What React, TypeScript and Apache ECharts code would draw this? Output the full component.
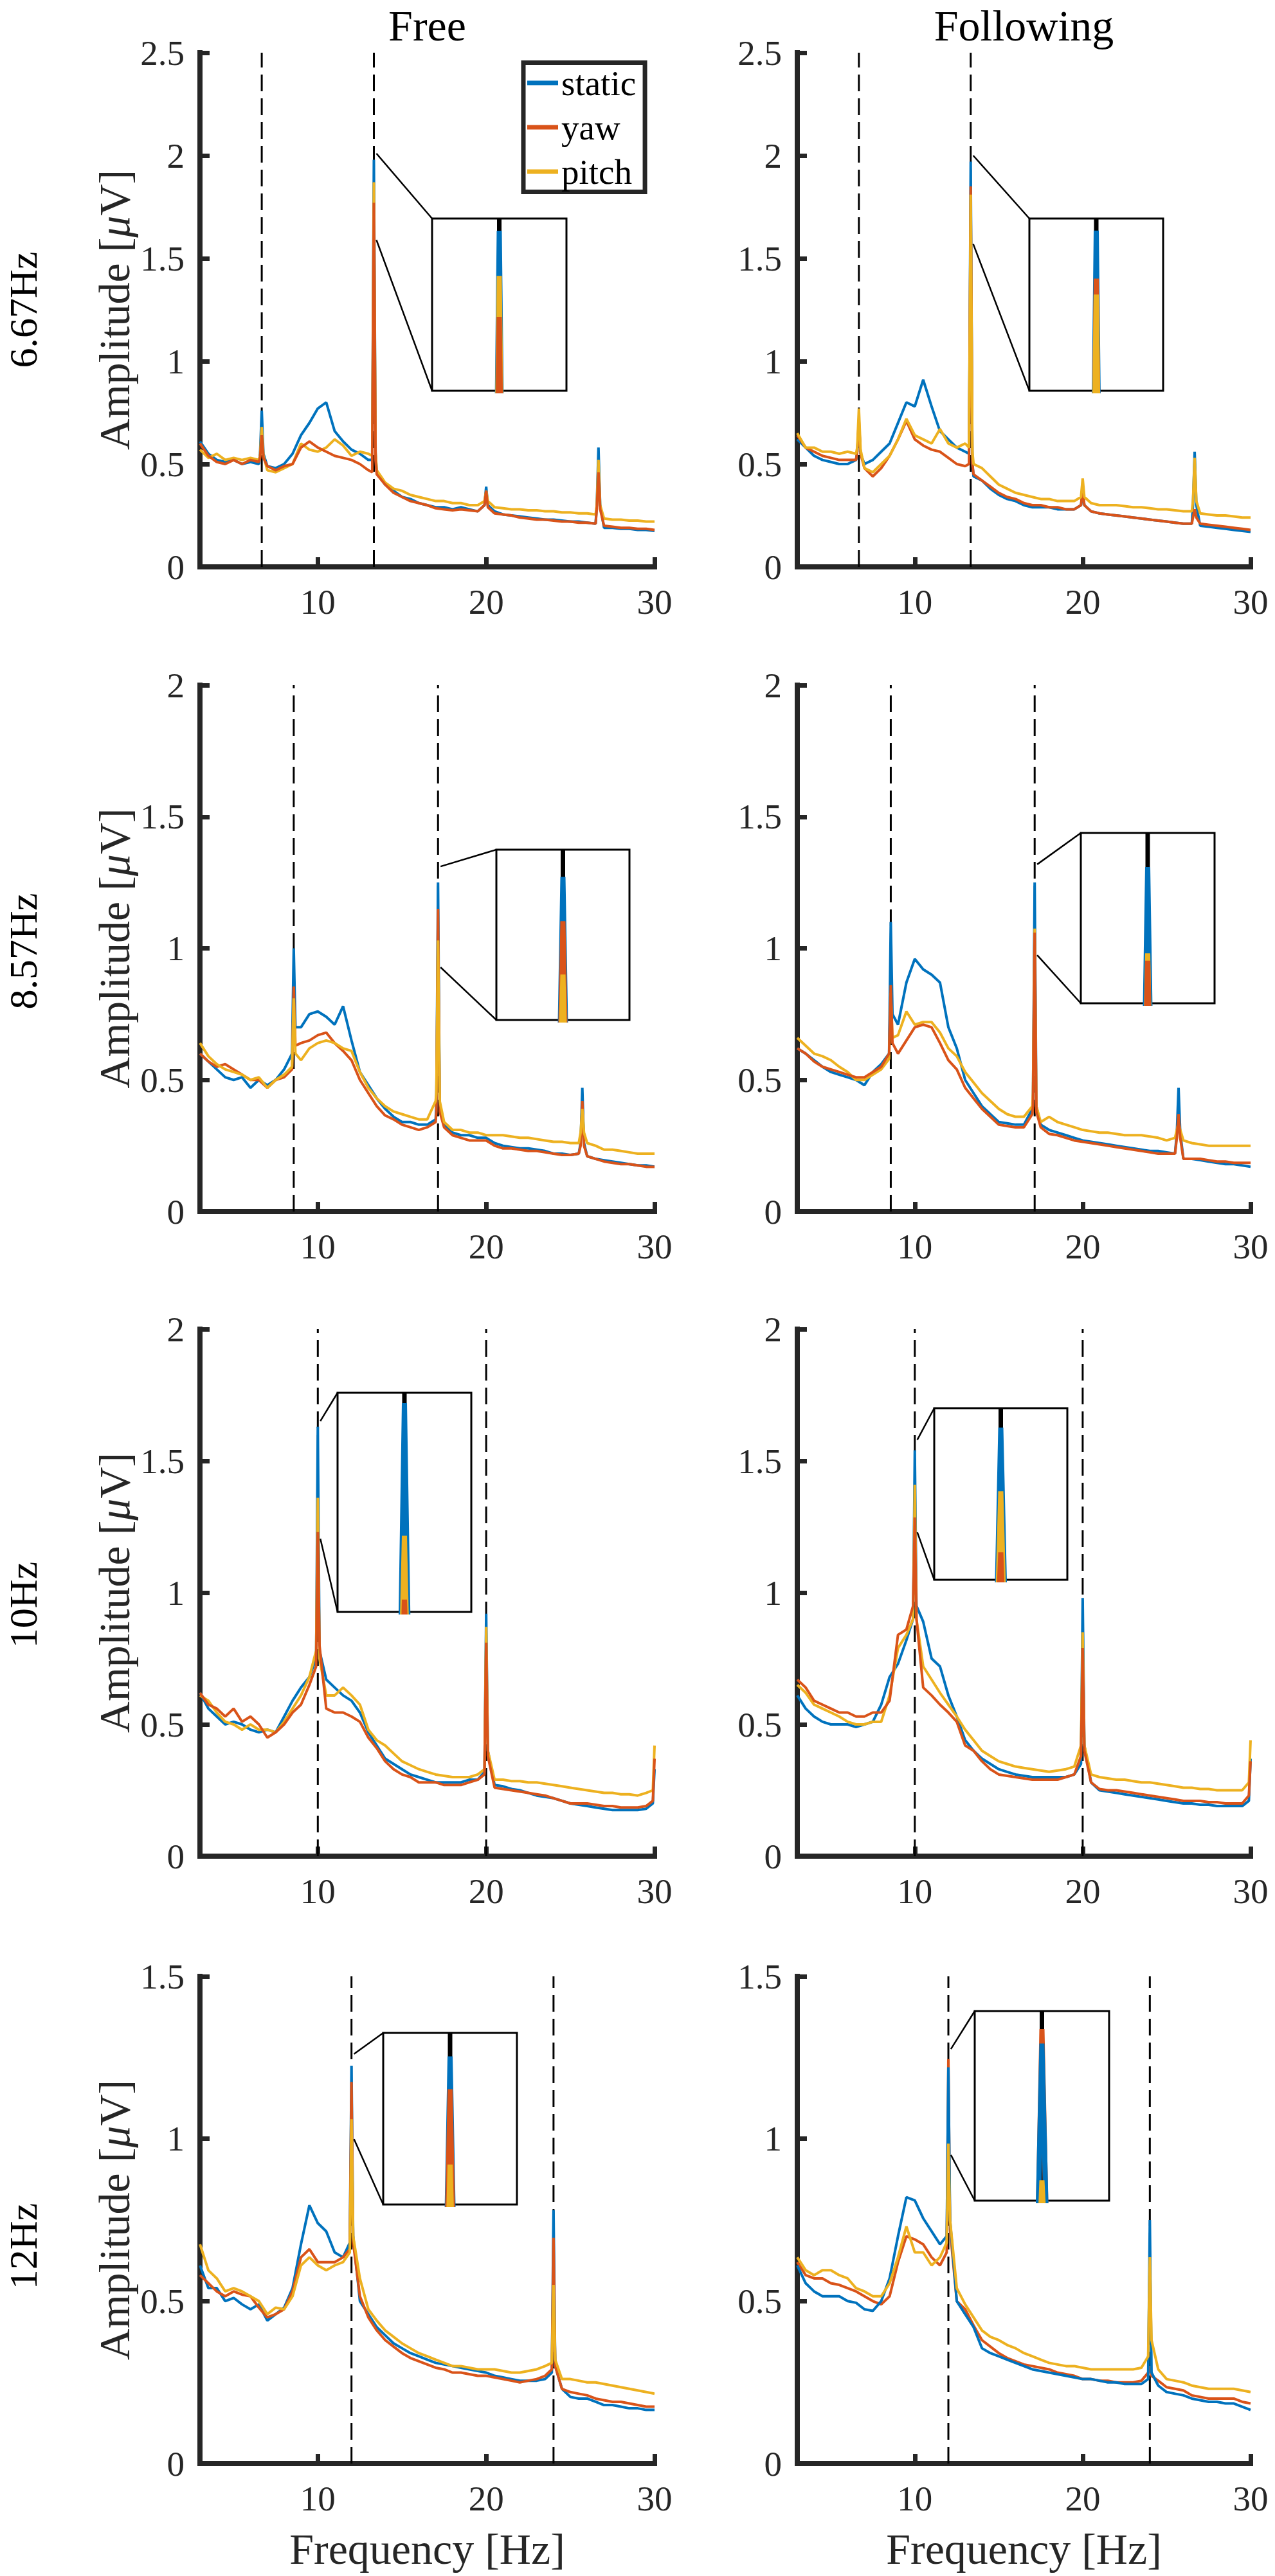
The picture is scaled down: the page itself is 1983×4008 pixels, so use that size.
import React, { useEffect, useRef } from "react";
import * as echarts from "echarts";

const FONT = "Liberation Serif";
const AXIS = "#262626";
const COLORS: Record<string, string> = { static: "#0072BD", yaw: "#D95319", pitch: "#EDB120" };
const SERIES_NAMES = ["static", "yaw", "pitch"];

const rowTitles = ["6.67Hz", "8.57Hz", "10Hz", "12Hz"];
const colTitles = ["Free", "Following"];
const yAxisTitle = "Amplitude [";
const yAxisUnit = "V]";
const xAxisTitle = "Frequency [Hz]";
const yMaxByRow = [2.5, 2, 2, 1.5];
const stimLinesByRow = [[6.67, 13.33], [8.57, 17.14], [10, 20], [12, 24]];
const xTickValues = [10, 20, 30];

// ---------- 6.67 Hz ----------
const freq667 = [3, 3.5, 4, 4.5, 5, 5.5, 6, 6.5, 6.57, 6.67, 6.77, 7, 7.5, 8, 8.5, 9, 9.5, 10, 10.5, 11, 11.5, 12, 12.5, 13, 13.23, 13.33, 13.43, 13.5, 14, 14.5, 15, 15.5, 16, 16.5, 17, 17.5, 18, 18.5, 19, 19.5, 19.9, 20, 20.1, 20.5, 21, 21.5, 22, 22.5, 23, 23.5, 24, 24.5, 25, 25.5, 26, 26.5, 26.57, 26.67, 26.77, 27, 27.5, 28, 28.5, 29, 29.5, 30];
const free667Static = [0.61, 0.55, 0.52, 0.51, 0.52, 0.5, 0.51, 0.5, 0.55, 0.76, 0.55, 0.49, 0.48, 0.5, 0.55, 0.64, 0.7, 0.77, 0.8, 0.66, 0.61, 0.57, 0.55, 0.52, 0.52, 1.98, 0.55, 0.46, 0.4, 0.37, 0.34, 0.33, 0.31, 0.3, 0.29, 0.29, 0.28, 0.29, 0.28, 0.27, 0.3, 0.39, 0.3, 0.27, 0.255, 0.25, 0.245, 0.24, 0.235, 0.23, 0.23, 0.225, 0.22, 0.22, 0.215, 0.21, 0.3, 0.58, 0.3, 0.19, 0.19, 0.185, 0.185, 0.18, 0.18, 0.175];
const free667Yaw = [0.6, 0.54, 0.51, 0.5, 0.52, 0.5, 0.52, 0.51, 0.53, 0.64, 0.53, 0.49, 0.47, 0.49, 0.5, 0.58, 0.61, 0.58, 0.56, 0.54, 0.53, 0.52, 0.5, 0.47, 0.46, 1.77, 0.52, 0.45, 0.4, 0.36, 0.34, 0.32, 0.31, 0.3, 0.285, 0.28, 0.275, 0.28, 0.275, 0.27, 0.3, 0.37, 0.29, 0.26, 0.255, 0.25, 0.24, 0.235, 0.23, 0.23, 0.225, 0.22, 0.22, 0.215, 0.215, 0.21, 0.28, 0.46, 0.28, 0.2, 0.195, 0.19, 0.19, 0.185, 0.185, 0.18];
const free667Pitch = [0.57, 0.53, 0.55, 0.52, 0.53, 0.52, 0.53, 0.52, 0.54, 0.68, 0.54, 0.47, 0.46, 0.48, 0.5, 0.6, 0.57, 0.56, 0.58, 0.62, 0.59, 0.54, 0.56, 0.55, 0.54, 1.87, 0.56, 0.47, 0.41, 0.38, 0.37, 0.35, 0.34, 0.33, 0.32, 0.32, 0.31, 0.31, 0.3, 0.3, 0.32, 0.37, 0.32, 0.29, 0.285, 0.28, 0.28, 0.275, 0.275, 0.27, 0.27, 0.265, 0.265, 0.26, 0.26, 0.255, 0.3, 0.52, 0.3, 0.235, 0.23, 0.23, 0.225, 0.225, 0.22, 0.22];
const follow667Static = [0.62, 0.58, 0.54, 0.52, 0.51, 0.5, 0.5, 0.52, 0.56, 0.7, 0.55, 0.5, 0.52, 0.56, 0.6, 0.7, 0.8, 0.78, 0.91, 0.78, 0.66, 0.62, 0.58, 0.56, 0.55, 1.97, 0.5, 0.44, 0.42, 0.38, 0.35, 0.33, 0.32, 0.3, 0.29, 0.29, 0.29, 0.28, 0.28, 0.28, 0.3, 0.36, 0.3, 0.27, 0.26, 0.255, 0.25, 0.245, 0.24, 0.235, 0.23, 0.225, 0.22, 0.215, 0.21, 0.21, 0.3, 0.56, 0.3, 0.2, 0.195, 0.19, 0.185, 0.18, 0.175, 0.17];
const follow667Yaw = [0.64, 0.58, 0.56, 0.54, 0.53, 0.52, 0.52, 0.52, 0.56, 0.72, 0.55, 0.48, 0.44, 0.48, 0.54, 0.62, 0.71, 0.62, 0.59, 0.57, 0.56, 0.53, 0.5, 0.49, 0.5, 1.85, 0.5, 0.45, 0.42, 0.39, 0.36, 0.34, 0.33, 0.31, 0.3, 0.3, 0.29, 0.29, 0.28, 0.28, 0.3, 0.38, 0.3, 0.27, 0.26, 0.255, 0.25, 0.245, 0.24, 0.235, 0.23, 0.225, 0.22, 0.215, 0.21, 0.21, 0.24, 0.28, 0.24, 0.21, 0.205, 0.2, 0.195, 0.19, 0.185, 0.18];
const follow667Pitch = [0.65, 0.58, 0.58, 0.56, 0.56, 0.55, 0.56, 0.55, 0.58, 0.77, 0.57, 0.48, 0.46, 0.5, 0.54, 0.62, 0.72, 0.64, 0.62, 0.6, 0.67, 0.6, 0.58, 0.6, 0.58, 1.81, 0.56, 0.5, 0.48, 0.44, 0.4, 0.38, 0.36, 0.35, 0.34, 0.33, 0.33, 0.32, 0.32, 0.32, 0.34, 0.43, 0.34, 0.31, 0.3, 0.3, 0.3, 0.295, 0.29, 0.29, 0.285, 0.28, 0.28, 0.275, 0.27, 0.27, 0.32, 0.53, 0.32, 0.26, 0.255, 0.25, 0.25, 0.245, 0.24, 0.24];

// ---------- 8.57 Hz ----------
const freq857 = [3, 3.5, 4, 4.5, 5, 5.5, 6, 6.5, 7, 7.5, 8, 8.47, 8.57, 8.67, 9, 9.5, 10, 10.5, 11, 11.5, 12, 12.5, 13, 13.5, 14, 14.5, 15, 15.5, 16, 16.5, 17, 17.04, 17.14, 17.24, 17.5, 18, 18.5, 19, 19.5, 20, 20.5, 21, 21.5, 22, 22.5, 23, 23.5, 24, 24.5, 25, 25.5, 25.61, 25.71, 25.81, 26, 26.5, 27, 27.5, 28, 28.5, 29, 29.5, 30];
const free857Static = [0.6, 0.57, 0.54, 0.51, 0.5, 0.51, 0.47, 0.5, 0.48, 0.5, 0.54, 0.6, 1.0, 0.7, 0.7, 0.75, 0.76, 0.74, 0.71, 0.78, 0.65, 0.53, 0.48, 0.43, 0.39, 0.36, 0.34, 0.34, 0.33, 0.33, 0.35, 0.4, 1.25, 0.4, 0.33, 0.3, 0.29, 0.29, 0.28, 0.28, 0.26, 0.25, 0.245, 0.24, 0.24, 0.235, 0.23, 0.22, 0.22, 0.215, 0.22, 0.26, 0.47, 0.26, 0.21, 0.2, 0.195, 0.19, 0.185, 0.18, 0.175, 0.175, 0.17];
const free857Yaw = [0.6, 0.57, 0.55, 0.56, 0.54, 0.52, 0.5, 0.5, 0.47, 0.5, 0.51, 0.54, 0.855, 0.63, 0.64, 0.65, 0.67, 0.68, 0.64, 0.61, 0.575, 0.5, 0.45, 0.4, 0.365, 0.35, 0.33, 0.32, 0.31, 0.32, 0.34, 0.38, 1.15, 0.38, 0.32, 0.29, 0.28, 0.27, 0.27, 0.27, 0.25, 0.24, 0.24, 0.235, 0.23, 0.23, 0.225, 0.22, 0.215, 0.215, 0.22, 0.25, 0.42, 0.25, 0.21, 0.2, 0.19, 0.185, 0.18, 0.18, 0.175, 0.17, 0.17];
const free857Pitch = [0.64, 0.59, 0.56, 0.54, 0.53, 0.52, 0.5, 0.51, 0.47, 0.5, 0.52, 0.55, 0.81, 0.6, 0.575, 0.62, 0.64, 0.65, 0.64, 0.62, 0.61, 0.53, 0.47, 0.43, 0.4, 0.38, 0.37, 0.36, 0.35, 0.35, 0.42, 0.45, 1.03, 0.42, 0.34, 0.31, 0.31, 0.3, 0.3, 0.29, 0.29, 0.29, 0.285, 0.28, 0.28, 0.275, 0.27, 0.265, 0.265, 0.26, 0.26, 0.3, 0.39, 0.3, 0.26, 0.25, 0.235, 0.235, 0.23, 0.225, 0.22, 0.22, 0.22];
const follow857Static = [0.62, 0.6, 0.575, 0.55, 0.53, 0.52, 0.51, 0.5, 0.48, 0.53, 0.56, 0.6, 1.1, 0.75, 0.71, 0.87, 0.96, 0.92, 0.9, 0.87, 0.7, 0.62, 0.5, 0.45, 0.4, 0.37, 0.34, 0.335, 0.33, 0.33, 0.39, 0.42, 1.25, 0.4, 0.33, 0.31, 0.3, 0.29, 0.28, 0.27, 0.265, 0.26, 0.255, 0.25, 0.245, 0.24, 0.235, 0.23, 0.23, 0.225, 0.22, 0.3, 0.47, 0.3, 0.2, 0.2, 0.195, 0.19, 0.185, 0.18, 0.18, 0.175, 0.17];
const follow857Yaw = [0.62, 0.6, 0.57, 0.55, 0.54, 0.53, 0.52, 0.51, 0.51, 0.53, 0.55, 0.6, 0.86, 0.64, 0.6, 0.65, 0.7, 0.71, 0.7, 0.64, 0.575, 0.54, 0.47, 0.43, 0.39, 0.36, 0.33, 0.325, 0.32, 0.32, 0.37, 0.4, 1.06, 0.38, 0.32, 0.295, 0.29, 0.28, 0.27, 0.265, 0.26, 0.255, 0.25, 0.245, 0.24, 0.235, 0.23, 0.225, 0.22, 0.22, 0.22, 0.28, 0.37, 0.28, 0.2, 0.2, 0.2, 0.195, 0.19, 0.19, 0.185, 0.185, 0.185];
const follow857Pitch = [0.66, 0.63, 0.6, 0.59, 0.575, 0.55, 0.53, 0.5, 0.5, 0.52, 0.54, 0.58, 0.83, 0.66, 0.67, 0.76, 0.71, 0.72, 0.72, 0.68, 0.62, 0.59, 0.53, 0.49, 0.45, 0.42, 0.39, 0.37, 0.36, 0.36, 0.4, 0.45, 1.075, 0.4, 0.34, 0.36, 0.34, 0.33, 0.32, 0.31, 0.305, 0.3, 0.3, 0.295, 0.29, 0.29, 0.29, 0.285, 0.28, 0.27, 0.28, 0.31, 0.34, 0.31, 0.27, 0.26, 0.255, 0.25, 0.25, 0.25, 0.25, 0.25, 0.25];

// ---------- 10 Hz ----------
const freq10 = [3, 3.5, 4, 4.5, 5, 5.5, 6, 6.5, 7, 7.5, 8, 8.5, 9, 9.5, 9.9, 10, 10.1, 10.5, 11, 11.5, 12, 12.5, 13, 13.5, 14, 14.5, 15, 15.5, 16, 16.5, 17, 17.5, 18, 18.5, 19, 19.5, 19.9, 20, 20.1, 20.5, 21, 21.5, 22, 22.5, 23, 23.5, 24, 24.5, 25, 25.5, 26, 26.5, 27, 27.5, 28, 28.5, 29, 29.5, 29.9, 30];
const free10Static = [0.62, 0.56, 0.53, 0.5, 0.51, 0.5, 0.48, 0.47, 0.48, 0.47, 0.53, 0.59, 0.64, 0.68, 0.75, 1.63, 0.78, 0.67, 0.64, 0.61, 0.59, 0.545, 0.47, 0.42, 0.37, 0.35, 0.33, 0.31, 0.3, 0.29, 0.28, 0.28, 0.28, 0.28, 0.29, 0.29, 0.32, 0.92, 0.4, 0.27, 0.265, 0.255, 0.25, 0.24, 0.23, 0.225, 0.22, 0.21, 0.2, 0.195, 0.19, 0.185, 0.18, 0.175, 0.175, 0.175, 0.175, 0.18, 0.2, 0.33];
const free10Yaw = [0.62, 0.575, 0.56, 0.53, 0.56, 0.51, 0.53, 0.5, 0.45, 0.47, 0.5, 0.545, 0.575, 0.65, 0.72, 1.23, 0.8, 0.56, 0.545, 0.545, 0.53, 0.51, 0.45, 0.41, 0.36, 0.33, 0.31, 0.3, 0.28, 0.28, 0.28, 0.27, 0.27, 0.27, 0.28, 0.29, 0.31, 0.81, 0.38, 0.26, 0.255, 0.25, 0.245, 0.24, 0.235, 0.23, 0.22, 0.21, 0.2, 0.2, 0.2, 0.195, 0.19, 0.19, 0.185, 0.185, 0.185, 0.19, 0.21, 0.37];
const free10Pitch = [0.61, 0.59, 0.545, 0.51, 0.5, 0.48, 0.5, 0.48, 0.48, 0.47, 0.51, 0.56, 0.61, 0.68, 0.78, 1.36, 0.75, 0.61, 0.61, 0.64, 0.61, 0.575, 0.48, 0.44, 0.42, 0.39, 0.36, 0.345, 0.33, 0.32, 0.31, 0.305, 0.3, 0.3, 0.3, 0.31, 0.33, 0.87, 0.4, 0.29, 0.29, 0.285, 0.285, 0.28, 0.28, 0.275, 0.27, 0.265, 0.26, 0.255, 0.25, 0.245, 0.24, 0.24, 0.235, 0.235, 0.23, 0.24, 0.25, 0.42];
const follow10Static = [0.61, 0.56, 0.53, 0.51, 0.5, 0.5, 0.5, 0.49, 0.5, 0.51, 0.575, 0.68, 0.73, 0.82, 0.9, 1.54, 0.95, 0.89, 0.75, 0.72, 0.61, 0.53, 0.44, 0.4, 0.37, 0.35, 0.33, 0.32, 0.31, 0.305, 0.3, 0.3, 0.3, 0.3, 0.3, 0.31, 0.35, 0.98, 0.42, 0.28, 0.25, 0.245, 0.24, 0.235, 0.23, 0.225, 0.22, 0.215, 0.21, 0.205, 0.2, 0.2, 0.195, 0.195, 0.19, 0.19, 0.19, 0.19, 0.21, 0.37];
const follow10Yaw = [0.67, 0.64, 0.59, 0.575, 0.56, 0.545, 0.545, 0.53, 0.53, 0.545, 0.545, 0.59, 0.84, 0.86, 0.95, 1.285, 0.9, 0.64, 0.61, 0.575, 0.545, 0.51, 0.42, 0.4, 0.36, 0.33, 0.31, 0.305, 0.3, 0.295, 0.29, 0.29, 0.29, 0.29, 0.3, 0.31, 0.38, 0.79, 0.4, 0.28, 0.255, 0.25, 0.25, 0.245, 0.24, 0.235, 0.23, 0.225, 0.22, 0.215, 0.21, 0.21, 0.21, 0.205, 0.205, 0.2, 0.2, 0.2, 0.23, 0.36];
const follow10Pitch = [0.65, 0.62, 0.575, 0.56, 0.545, 0.53, 0.51, 0.5, 0.5, 0.51, 0.51, 0.61, 0.79, 0.84, 0.9, 1.41, 0.9, 0.72, 0.67, 0.62, 0.575, 0.53, 0.48, 0.44, 0.4, 0.38, 0.36, 0.35, 0.34, 0.335, 0.33, 0.325, 0.32, 0.325, 0.33, 0.34, 0.42, 0.85, 0.42, 0.31, 0.3, 0.295, 0.29, 0.29, 0.285, 0.28, 0.28, 0.275, 0.27, 0.265, 0.26, 0.26, 0.255, 0.255, 0.25, 0.25, 0.25, 0.25, 0.28, 0.44];

// ---------- 12 Hz ----------
const freq12 = [3, 3.5, 4, 4.5, 5, 5.5, 6, 6.5, 7, 7.5, 8, 8.5, 9, 9.5, 10, 10.5, 11, 11.5, 11.9, 12, 12.1, 12.5, 13, 13.5, 14, 14.5, 15, 15.5, 16, 16.5, 17, 17.5, 18, 18.5, 19, 19.5, 20, 20.5, 21, 21.5, 22, 22.5, 23, 23.5, 23.9, 24, 24.1, 24.5, 25, 25.5, 26, 26.5, 27, 27.5, 28, 28.5, 29, 29.5, 30];
const free12Static = [0.61, 0.54, 0.54, 0.5, 0.51, 0.49, 0.475, 0.49, 0.44, 0.46, 0.48, 0.54, 0.675, 0.795, 0.74, 0.715, 0.65, 0.635, 0.68, 1.225, 0.7, 0.5, 0.46, 0.42, 0.395, 0.37, 0.355, 0.34, 0.33, 0.32, 0.31, 0.305, 0.3, 0.295, 0.29, 0.285, 0.28, 0.27, 0.265, 0.26, 0.255, 0.255, 0.255, 0.26, 0.28, 0.78, 0.3, 0.23, 0.205, 0.2, 0.2, 0.19, 0.18, 0.18, 0.175, 0.17, 0.17, 0.165, 0.165];
const free12Yaw = [0.58, 0.555, 0.53, 0.515, 0.53, 0.52, 0.515, 0.48, 0.45, 0.46, 0.475, 0.53, 0.635, 0.66, 0.62, 0.62, 0.62, 0.635, 0.66, 1.175, 0.68, 0.515, 0.45, 0.41, 0.38, 0.36, 0.34, 0.325, 0.315, 0.305, 0.295, 0.29, 0.28, 0.28, 0.275, 0.27, 0.27, 0.265, 0.26, 0.255, 0.25, 0.255, 0.26, 0.27, 0.29, 0.695, 0.3, 0.23, 0.22, 0.215, 0.21, 0.2, 0.195, 0.19, 0.19, 0.185, 0.18, 0.175, 0.175];
const free12Pitch = [0.675, 0.595, 0.57, 0.53, 0.54, 0.53, 0.515, 0.5, 0.46, 0.48, 0.475, 0.515, 0.61, 0.635, 0.61, 0.595, 0.61, 0.62, 0.65, 1.06, 0.7, 0.57, 0.475, 0.44, 0.41, 0.39, 0.37, 0.355, 0.34, 0.33, 0.32, 0.31, 0.3, 0.3, 0.295, 0.29, 0.29, 0.29, 0.285, 0.28, 0.28, 0.285, 0.29, 0.3, 0.31, 0.55, 0.32, 0.26, 0.26, 0.255, 0.25, 0.25, 0.245, 0.24, 0.235, 0.23, 0.225, 0.22, 0.215];
const follow12Static = [0.61, 0.555, 0.53, 0.515, 0.515, 0.515, 0.5, 0.495, 0.475, 0.47, 0.5, 0.57, 0.7, 0.82, 0.81, 0.755, 0.715, 0.675, 0.7, 1.22, 0.75, 0.5, 0.46, 0.42, 0.355, 0.34, 0.33, 0.32, 0.31, 0.3, 0.29, 0.285, 0.28, 0.275, 0.27, 0.265, 0.26, 0.26, 0.255, 0.25, 0.25, 0.245, 0.245, 0.245, 0.26, 0.75, 0.28, 0.24, 0.22, 0.215, 0.21, 0.2, 0.195, 0.19, 0.19, 0.185, 0.185, 0.175, 0.165];
const follow12Yaw = [0.62, 0.58, 0.57, 0.57, 0.555, 0.55, 0.54, 0.53, 0.515, 0.5, 0.49, 0.515, 0.62, 0.7, 0.69, 0.675, 0.635, 0.61, 0.65, 1.245, 0.72, 0.5, 0.475, 0.425, 0.38, 0.36, 0.34, 0.325, 0.315, 0.305, 0.3, 0.295, 0.29, 0.28, 0.275, 0.27, 0.26, 0.26, 0.255, 0.255, 0.25, 0.25, 0.25, 0.255, 0.28, 0.3, 0.27, 0.255, 0.235, 0.23, 0.225, 0.21, 0.205, 0.2, 0.2, 0.2, 0.2, 0.19, 0.185];
const follow12Pitch = [0.635, 0.595, 0.58, 0.595, 0.595, 0.58, 0.57, 0.54, 0.53, 0.515, 0.515, 0.555, 0.635, 0.73, 0.65, 0.65, 0.61, 0.635, 0.68, 0.985, 0.75, 0.54, 0.49, 0.45, 0.41, 0.39, 0.38, 0.365, 0.355, 0.34, 0.33, 0.32, 0.31, 0.305, 0.3, 0.3, 0.295, 0.29, 0.29, 0.29, 0.29, 0.29, 0.29, 0.295, 0.33, 0.635, 0.38, 0.29, 0.26, 0.255, 0.25, 0.24, 0.235, 0.23, 0.23, 0.23, 0.23, 0.225, 0.22];

// zoomed window of each inset: centre frequency and amplitude range
const insetFreq = [13.33, 13.33, 17.14, 17.14, 10, 10, 12, 12];
const insetLow = [1.59, 1.57, 0.928, 0.974, 1.205, 1.229, 0.999, 0.95];
const insetHigh = [2.01, 2.0, 1.311, 1.319, 1.651, 1.58, 1.261, 1.276];

type Panel = {
  row: number;
  col: number;
  freq: number[];
  values: Record<string, number[]>;
  order: string[];
};

const PANELS: Panel[] = [
  { row: 0, col: 0, freq: freq667, values: { static: free667Static, yaw: free667Yaw, pitch: free667Pitch }, order: ["static", "pitch", "yaw"] },
  { row: 0, col: 1, freq: freq667, values: { static: follow667Static, yaw: follow667Yaw, pitch: follow667Pitch }, order: ["static", "yaw", "pitch"] },
  { row: 1, col: 0, freq: freq857, values: { static: free857Static, yaw: free857Yaw, pitch: free857Pitch }, order: ["static", "yaw", "pitch"] },
  { row: 1, col: 1, freq: freq857, values: { static: follow857Static, yaw: follow857Yaw, pitch: follow857Pitch }, order: ["static", "pitch", "yaw"] },
  { row: 2, col: 0, freq: freq10, values: { static: free10Static, yaw: free10Yaw, pitch: free10Pitch }, order: ["static", "pitch", "yaw"] },
  { row: 2, col: 1, freq: freq10, values: { static: follow10Static, yaw: follow10Yaw, pitch: follow10Pitch }, order: ["static", "pitch", "yaw"] },
  { row: 3, col: 0, freq: freq12, values: { static: free12Static, yaw: free12Yaw, pitch: free12Pitch }, order: ["static", "yaw", "pitch"] },
  { row: 3, col: 1, freq: freq12, values: { static: follow12Static, yaw: follow12Yaw, pitch: follow12Pitch }, order: ["yaw", "static", "pitch"] },
];

// layout (pixels)
const COL_LEFT = [311, 1240];
const COL_WIDTH = [707, 705];
const ROW_TOP = [82, 1066, 2068, 3075];
const ROW_HEIGHT = [800, 819, 820, 758];
const ROW_LABEL_Y = [482, 1480, 2497, 3495];
const Y_TITLE_X = 178;
const X_TITLE_Y = 3966;
// inset boxes: [left, top, width, height]
const INSET_BOX = [
  [672, 340, 209, 268],
  [1601, 340, 208, 268],
  [772, 1322, 207, 265],
  [1681, 1296, 208, 265],
  [525, 2167, 208, 341],
  [1453, 2191, 207, 267],
  [596, 3163, 208, 267],
  [1516, 3129, 209, 295],
];

const tickRich = { t: { fontFamily: FONT, fontSize: 55, color: AXIS } };

function buildOption() {
  const grid: any[] = [];
  const xAxis: any[] = [];
  const yAxis: any[] = [];
  const series: any[] = [];
  const n = PANELS.length;

  PANELS.forEach((p, i) => {
    grid.push({ left: COL_LEFT[p.col], top: ROW_TOP[p.row], width: COL_WIDTH[p.col], height: ROW_HEIGHT[p.row], show: false });
    xAxis.push({
      gridIndex: i,
      type: "value",
      min: 3,
      max: 30,
      axisLine: { show: true, onZero: false, lineStyle: { color: AXIS, width: 8, cap: "square" } },
      axisTick: { show: true, inside: true, length: 15, customValues: xTickValues, lineStyle: { color: AXIS, width: 7 } },
      axisLabel: {
        show: true,
        customValues: xTickValues,
        fontFamily: FONT,
        fontSize: 55,
        color: AXIS,
        margin: 27,
        formatter: (v: number) => "{t|" + v + "}",
        rich: tickRich,
      },
      splitLine: { show: false },
    });
    yAxis.push({
      gridIndex: i,
      type: "value",
      min: 0,
      max: yMaxByRow[p.row],
      interval: 0.5,
      axisLine: { show: true, onZero: false, lineStyle: { color: AXIS, width: 8, cap: "square" } },
      axisTick: { show: true, inside: true, length: 15, lineStyle: { color: AXIS, width: 7 } },
      axisLabel: {
        show: true,
        fontFamily: FONT,
        fontSize: 55,
        color: AXIS,
        margin: 24,
        formatter: (v: number) => "{t|" + v + "}",
        rich: tickRich,
      },
      splitLine: { show: false },
    });

    // dashed stimulation-frequency lines
    stimLinesByRow[p.row].forEach((f) => {
      series.push({
        type: "line",
        name: "stim",
        xAxisIndex: i,
        yAxisIndex: i,
        data: [[f, 0], [f, yMaxByRow[p.row]]],
        showSymbol: false,
        symbol: "none",
        silent: true,
        z: 1,
        lineStyle: { color: "#000", width: 3, type: [26, 11] },
      });
    });

    p.order.forEach((name, k) => {
      const vals = p.values[name];
      series.push({
        type: "line",
        name,
        xAxisIndex: i,
        yAxisIndex: i,
        data: p.freq.map((x, j) => [x, vals[j]]),
        showSymbol: false,
        symbol: "none",
        silent: true,
        z: 3 + k,
        color: COLORS[name],
        lineStyle: { color: COLORS[name], width: 4, join: "bevel" },
      });
    });
  });

  // insets
  PANELS.forEach((p, i) => {
    const gi = n + i;
    const box = INSET_BOX[i];
    const f = insetFreq[i];
    grid.push({ left: box[0], top: box[1], width: box[2], height: box[3], show: true, borderColor: "#000", borderWidth: 3, backgroundColor: "#fff", z: 10 });
    xAxis.push({ gridIndex: gi, type: "value", min: f - 1, max: f + 1, show: false });
    yAxis.push({ gridIndex: gi, type: "value", min: insetLow[i], max: insetHigh[i], show: false });
    series.push({
      type: "line",
      name: "stim-inset",
      xAxisIndex: gi,
      yAxisIndex: gi,
      data: [[f, insetLow[i]], [f, insetHigh[i]]],
      showSymbol: false,
      symbol: "none",
      silent: true,
      z: 11,
      lineStyle: { color: "#000", width: 7 },
    });
    p.order.forEach((name, k) => {
      const vals = p.values[name];
      series.push({
        type: "line",
        name,
        xAxisIndex: gi,
        yAxisIndex: gi,
        data: p.freq.map((x, j) => [x, vals[j]]),
        showSymbol: false,
        symbol: "none",
        silent: true,
        clip: true,
        z: 12 + k,
        color: COLORS[name],
        lineStyle: { color: COLORS[name], width: 8, join: "bevel" },
      });
    });
  });

  return {
    animation: false,
    backgroundColor: "#fff",
    textStyle: { fontFamily: FONT },
    grid,
    xAxis,
    yAxis,
    series,
    legend: {
      show: true,
      data: SERIES_NAMES,
      orient: "vertical",
      left: 814,
      top: 97.5,
      padding: [4, 14, 4, 6],
      itemGap: 14,
      itemWidth: 48,
      itemHeight: 7,
      icon: "rect",
      borderColor: AXIS,
      borderWidth: 7,
      backgroundColor: "#fff",
      selectedMode: false,
      textStyle: { fontFamily: FONT, fontSize: 55, color: "#000" },
      z: 20,
    },
  };
}

function textStyle(text: string, size: number, color: string, extra: any = {}) {
  return {
    text,
    fontFamily: FONT,
    fontSize: size,
    fill: color,
    align: "center",
    verticalAlign: "middle",
    textAlign: "center",
    textVerticalAlign: "middle",
    ...extra,
  };
}

function baseGraphics() {
  const g: any[] = [];
  colTitles.forEach((t, c) => {
    g.push({ type: "text", x: COL_LEFT[c] + COL_WIDTH[c] / 2, y: 40, style: textStyle(t, 68, "#000") });
    // x-axis title under the bottom row
    g.push({ type: "text", x: COL_LEFT[c] + COL_WIDTH[c] / 2, y: X_TITLE_Y, style: textStyle(xAxisTitle, 68, AXIS) });
  });
  rowTitles.forEach((t, r) => {
    g.push({ type: "text", x: 36, y: ROW_LABEL_Y[r], rotation: Math.PI / 2, style: textStyle(t, 62, "#000") });
    // y-axis title of the left column
    g.push({
      type: "text",
      x: Y_TITLE_X,
      y: ROW_TOP[r] + ROW_HEIGHT[r] / 2,
      rotation: Math.PI / 2,
      style: textStyle("{n|" + yAxisTitle + "}{i|μ}{n|" + yAxisUnit + "}", 68, AXIS, {
        rich: {
          n: { fontFamily: FONT, fontSize: 68, fill: AXIS, color: AXIS },
          i: { fontFamily: FONT, fontSize: 68, fontStyle: "italic", fill: AXIS, color: AXIS },
        },
      }),
    });
  });
  return g;
}

export default function App() {
  const ref = useRef<HTMLDivElement>(null);
  useEffect(() => {
    document.body.style.margin = "0";
    const chart = echarts.init(ref.current as HTMLDivElement, undefined, { renderer: "svg" });
    chart.setOption(buildOption() as any);
    const graphics = baseGraphics();
    PANELS.forEach((_p, i) => {
      const box = INSET_BOX[i];
      const f = insetFreq[i];
      const a = chart.convertToPixel({ gridIndex: i } as any, [f + 0.15, insetHigh[i]]) as number[];
      const b = chart.convertToPixel({ gridIndex: i } as any, [f + 0.15, insetLow[i]]) as number[];
      graphics.push({ type: "line", z: 30, silent: true, shape: { x1: box[0], y1: box[1], x2: a[0], y2: a[1] }, style: { stroke: "#000", lineWidth: 2.5 } });
      graphics.push({ type: "line", z: 30, silent: true, shape: { x1: box[0], y1: box[1] + box[3], x2: b[0], y2: b[1] }, style: { stroke: "#000", lineWidth: 2.5 } });
    });
    chart.setOption({ graphic: graphics } as any);
    return () => chart.dispose();
  }, []);
  return <div ref={ref} style={{ width: 1983, height: 4008 }} />;
}
